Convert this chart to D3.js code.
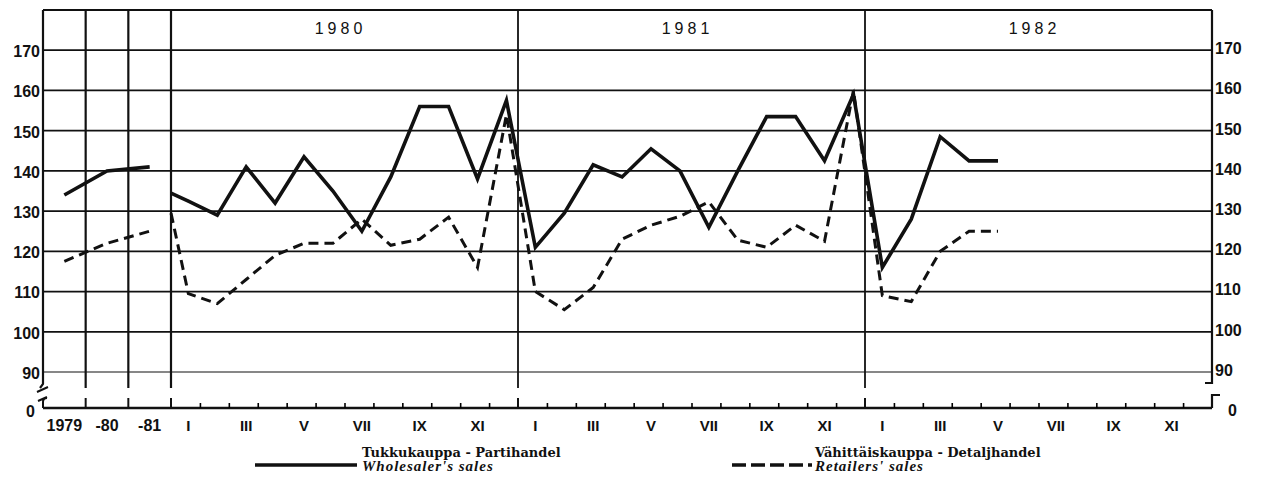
<!DOCTYPE html>
<html lang="en">
<head>
    <style>
        body { margin: 0; background: #fff; }
        .num { font-family: "Liberation Sans", Arial, sans-serif; font-size: 16px; font-weight: bold; fill: #111; }
        .yr { font-family: "Liberation Sans", Arial, sans-serif; font-size: 16px; fill: #111; letter-spacing: 4px; }
        .leg { font-family: "DejaVu Serif", serif; font-size: 13px; font-weight: bold; fill: #111; }
        .legi { font-family: "Liberation Serif", serif; font-size: 15px; font-weight: bold; font-style: italic; fill: #111; letter-spacing: 1px; }
    </style>
    <script src="https://d3js.org/d3.v7.min.js"></script>
</head>
<body>
<script>
    var width = 1261, height = 484;
    var plotLeft = 43, plotRight = 1212, plotTop = 10, base = 408;

    // annual averages 1979-81
    var annualLabels = ["1979", "-80", "-81"];
    var annualWholesale = [134, 140, 141];
    var annualRetail = [117.5, 122, 125];

    // monthly 1980 - 5/1982, lead values sit on the 1980 boundary
    var years = ["1980", "1981", "1982"];
    var leadWholesale = 134.5, leadRetail = 129.5;
    var wholesale = [132.5, 129, 141, 132, 143.5, 135, 125, 138.5, 156, 156, 138, 157.5,
                     121, 129.5, 141.5, 138.5, 145.5, 140, 126, 140, 153.5, 153.5, 142.5, 159,
                     116, 128, 148.5, 142.5, 142.5];
    var retail = [109.5, 107, 113, 119, 122, 122, 128, 121.5, 123, 128.5, 116, 154,
                  110, 105.5, 111, 123, 126.5, 128.7, 132.3, 122.8, 121, 126.5, 122.5, 160,
                  109, 107.5, 120, 125, 125];
    var monthLabels = ["I", "III", "V", "VII", "IX", "XI"];
    var yTicks = [90, 100, 110, 120, 130, 140, 150, 160, 170];

    var svg = d3.select("body")
                .append("svg")
                .attr("width", width)
                .attr("height", height);

    var y = d3.scaleLinear().domain([90, 180]).range([372, plotTop]);
    var xa = d3.scaleLinear().domain([0, 3]).range([plotLeft, 171]);
    var xm = d3.scaleLinear().domain([0, 36]).range([171, plotRight]);

    // horizontal grid
    svg.selectAll(".grid")
       .data(yTicks)
       .enter().append("line")
       .attr("x1", plotLeft).attr("x2", plotRight)
       .attr("y1", function(d) { return y(d); })
       .attr("y2", function(d) { return y(d); })
       .attr("stroke", "#111")
       .attr("stroke-width", function(d) { return d == 90 ? 1.1 : 1.7; });

    // frame
    svg.append("line").attr("x1", plotLeft).attr("x2", plotRight).attr("y1", plotTop).attr("y2", plotTop)
       .attr("stroke", "#111").attr("stroke-width", 2.2);
    svg.append("line").attr("x1", plotLeft).attr("x2", plotRight).attr("y1", base).attr("y2", base)
       .attr("stroke", "#111").attr("stroke-width", 2.4);
    svg.append("path").attr("d", "M" + plotLeft + "," + plotTop + "V384L40,388")
       .attr("fill", "none").attr("stroke", "#111").attr("stroke-width", 2.2);
    svg.append("path").attr("d", "M37,392L48,387M38,401L47,397M47,398Q43,398 43,402V" + base)
       .attr("fill", "none").attr("stroke", "#111").attr("stroke-width", 2);
    svg.append("path").attr("d", "M" + plotRight + "," + plotTop + "V383H1205")
       .attr("fill", "none").attr("stroke", "#111").attr("stroke-width", 2.2);
    svg.append("path").attr("d", "M1220,395H" + plotRight + "V" + base)
       .attr("fill", "none").attr("stroke", "#111").attr("stroke-width", 2.2);

    // vertical separators (year boundaries)
    var seps = [xa(1), xa(2), xa(3), xm(12), xm(24)];
    svg.selectAll(".sep")
       .data(seps)
       .enter().append("line")
       .attr("x1", function(d) { return d; }).attr("x2", function(d) { return d; })
       .attr("y1", plotTop).attr("y2", 388)
       .attr("stroke", "#111").attr("stroke-width", function(d, i) { return i < 3 ? 2.2 : 1.8; });

    // ticks on baseline
    var monthTicks = d3.range(1, 36).filter(function(d) { return d % 12 != 0; });
    svg.append("g")
       .attr("transform", "translate(0," + base + ")")
       .call(d3.axisBottom(xm).tickValues(monthTicks).tickSize(-5).tickFormat(""))
       .call(function(g) { g.select(".domain").remove(); g.selectAll("line").attr("stroke-width", 1.6); });
    svg.selectAll(".ytick")
       .data(seps)
       .enter().append("line")
       .attr("x1", function(d) { return d; }).attr("x2", function(d) { return d; })
       .attr("y1", base - 10).attr("y2", base)
       .attr("stroke", "#111").attr("stroke-width", 2);

    // y axes
    svg.append("g")
       .attr("transform", "translate(" + (plotLeft - 3) + ",0)")
       .call(d3.axisLeft(y).tickValues(yTicks).tickSize(0).tickPadding(0))
       .call(function(g) { g.select(".domain").remove(); g.selectAll("text").attr("class", "num").attr("dy", "0.4em"); });
    svg.append("g")
       .attr("transform", "translate(" + (plotRight + 3) + ",-3)")
       .call(d3.axisRight(y).tickValues(yTicks).tickSize(0).tickPadding(0))
       .call(function(g) { g.select(".domain").remove(); g.selectAll("text").attr("class", "num").attr("dy", "0.4em"); });
    svg.append("text").attr("class", "num").attr("x", plotLeft - 8).attr("y", base + 9)
       .attr("text-anchor", "end").text("0");
    svg.append("text").attr("class", "num").attr("x", plotRight + 16).attr("y", base + 8)
       .attr("text-anchor", "start").text("0");

    // bottom labels
    svg.selectAll(".alab")
       .data(annualLabels)
       .enter().append("text")
       .attr("class", "num")
       .attr("x", function(d, i) { return xa(i + 0.5); })
       .attr("y", base + 23)
       .attr("text-anchor", "middle")
       .text(function(d) { return d; });
    var mlab = [];
    for (var yi = 0; yi < years.length; yi++) {
        for (var k = 0; k < monthLabels.length; k++) {
            mlab.push({m: yi * 12 + k * 2 + 0.6, t: monthLabels[k]});
        }
    }
    svg.selectAll(".mlab")
       .data(mlab)
       .enter().append("text")
       .attr("class", "num")
       .attr("x", function(d) { return xm(d.m); })
       .attr("y", base + 23)
       .attr("text-anchor", "middle")
       .style("font-size", "15px")
       .text(function(d) { return d.t; });

    // year headers
    svg.selectAll(".yrlab")
       .data(years)
       .enter().append("text")
       .attr("class", "yr")
       .attr("x", function(d, i) { return xm(i * 12 + 6) - 4; })
       .attr("y", 34)
       .attr("text-anchor", "middle")
       .text(function(d) { return d; });

    // series
    function monthly(lead, vals) {
        var pts = [{m: 0, v: lead}];
        vals.forEach(function(v, i) { pts.push({m: i + 0.6, v: v}); });
        return pts;
    }
    var lm = d3.line().x(function(d) { return xm(d.m); }).y(function(d) { return y(d.v); });
    var la = d3.line().x(function(d, i) { return xa(i + 0.5); }).y(function(d) { return y(d); });

    var series = [
        {annual: annualWholesale, lead: leadWholesale, vals: wholesale, dash: null, w: 3.6},
        {annual: annualRetail, lead: leadRetail, vals: retail, dash: "10,6", w: 3}
    ];
    series.forEach(function(s) {
        svg.append("path").attr("d", la(s.annual))
           .attr("fill", "none").attr("stroke", "#111").attr("stroke-width", s.w)
           .attr("stroke-dasharray", s.dash);
        svg.append("path").attr("d", lm(monthly(s.lead, s.vals)))
           .attr("fill", "none").attr("stroke", "#111").attr("stroke-width", s.w)
           .attr("stroke-linejoin", "miter")
           .attr("stroke-dasharray", s.dash);
    });

    // legend
    var legend = [
        {x1: 255, x2: 357, tx: 362, t1: "Tukkukauppa - Partihandel", t2: "Wholesaler's sales", dash: null},
        {x1: 732, x2: 812, tx: 815, t1: "Vähittäiskauppa - Detaljhandel", t2: "Retailers' sales", dash: "14,5"}
    ];
    legend.forEach(function(d) {
        svg.append("line").attr("x1", d.x1).attr("x2", d.x2).attr("y1", 465).attr("y2", 465)
           .attr("stroke", "#111").attr("stroke-width", 3.4).attr("stroke-dasharray", d.dash);
        svg.append("text").attr("class", "leg").attr("x", d.tx).attr("y", 457).text(d.t1);
        svg.append("text").attr("class", "legi").attr("x", d.tx).attr("y", 471).text(d.t2);
    });
</script>
</body>
</html>
